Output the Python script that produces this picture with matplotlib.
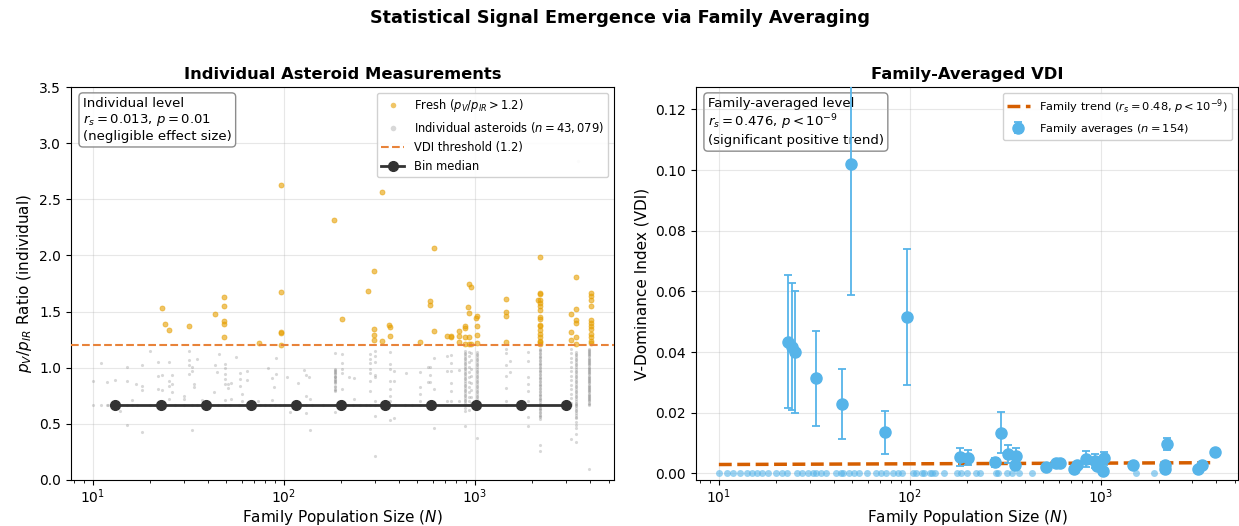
import numpy as np
import matplotlib
matplotlib.use("Agg")
import matplotlib.pyplot as plt
from matplotlib.lines import Line2D

# ---------------- Left panel data ----------------
fresh_N = [22.9, 23.9, 25.1, 31.9, 43.6, 48.8, 48.8, 48.8, 48.8, 48.8,
           74, 96.8, 96.8, 96.8, 96.8, 96.8, 183, 201, 277, 297, 297, 297, 297, 326, 326,
           355, 360, 360, 515, 581, 581,
           608, 608, 713, 746, 746, 824, 824, 824, 890, 890, 890, 926, 927, 957, 923, 930,
           890, 926, 949, 1028, 1010, 1028, 1028, 1028, 1459, 1459, 1459, 1459,
           2197, 2197, 2197, 2197, 2131, 2197, 2197, 2197, 2197, 2197, 2197, 2197, 2197, 2197,
           2197, 2197, 2197, 2197,
           3365, 3365, 3365, 3365, 3365, 3191, 3191, 3191, 3365,
           4029, 4029, 4029, 4029, 4029, 4029, 4029, 4029, 4029, 4029, 4029, 4029]
fresh_y = [1.530, 1.385, 1.335, 1.373, 1.477, 1.628, 1.553, 1.417, 1.385, 1.275,
           1.219, 2.625, 1.675, 1.317, 1.310, 1.202, 2.317, 1.432, 1.684, 1.864, 1.344, 1.293, 1.251, 2.566, 1.234,
           1.382, 1.361, 1.278, 1.231, 1.595, 1.557,
           2.066, 1.323, 1.280, 1.285, 1.275, 1.326, 1.281, 1.225, 1.367, 1.353, 1.269, 1.269, 1.746, 1.717, 1.542, 1.491,
           1.210, 1.210, 1.210, 1.462, 1.443, 1.370, 1.293, 1.222, 1.615, 1.495, 1.459, 1.225,
           1.988, 1.669, 1.655, 1.604, 1.604, 1.580, 1.551, 1.512, 1.453, 1.432, 1.382, 1.373, 1.335, 1.299,
           1.269, 1.240, 1.225, 1.210,
           1.805, 1.527, 1.429, 1.394, 1.275, 1.480, 1.320, 1.246, 1.210,
           1.669, 1.639, 1.604, 1.551, 1.426, 1.402, 1.373, 1.344, 1.299, 1.269, 1.240, 1.216]

indiv_N = [10.0, 10.0, 11.0, 11.0, 11.9, 11.9, 13.0, 13.9, 15.0, 15.0, 15.0, 15.0, 16.0, 16.9, 18.0, 18.0,
           18.0, 18.0, 20.0, 21.9, 21.9, 21.9, 22.9, 22.9, 25.0, 25.0, 25.0, 25.0, 25.9, 25.9, 25.9,
           29.8, 29.8, 31.9, 31.9, 31.9, 31.9, 33.0, 33.0, 33.8, 33.8, 33.0, 34.9, 37.1, 43.0, 43.7,
           44.8, 45.9, 48.9, 48.9, 48.9, 48.9, 48.9, 48.9, 50.7, 50.7, 53.0, 53.0, 55.8, 58.9, 58.9,
           58.9, 63.8, 63.8, 60.5, 60.5,
           12.0, 13.9, 16.0, 17.0, 20.0, 21.0, 24.0, 27.0, 29.8, 33.0, 35.0, 40.0, 45.0, 48.9, 52.0, 58.0, 63.0,
           73.1, 82.5, 86.9, 90.4, 90.4, 89.0, 86.9, 104, 118, 128, 131, 135, 130, 137, 137, 107, 130,
           184, 201, 185, 185, 185, 185, 185, 185, 185, 185, 184, 184, 184, 184, 201, 201, 201, 201, 201,
           185, 220, 233, 233, 283, 283, 283, 283, 283, 283, 299, 299, 299, 299, 299, 283, 299, 299, 299,
           357, 357, 357, 357, 357, 357, 357, 375, 375, 360, 375, 437, 515, 515, 515, 570, 570, 515,
           70, 75, 80, 85, 90, 95, 100, 110, 120, 130, 140, 160, 184, 190, 201, 215, 230, 250, 270, 283,
           299, 330, 357, 380, 430, 470, 515, 560,
           579, 579, 579, 607, 607, 607, 713, 713, 745, 745, 745, 745, 745, 745, 713, 824, 824, 889,
           889, 889, 889, 889, 889, 889, 889, 889, 889, 889, 889, 889, 889, 889, 889, 889, 889, 889, 889,
           926, 926, 926, 926, 926, 926, 926, 926, 926, 926, 926, 926, 926,
           949, 949, 949, 949, 949, 949, 949, 949, 949,
           1028, 1028, 1028, 1028, 1028, 1028, 1028, 1028, 1028, 1028, 1028, 1028, 1028, 1028, 1028,
           1028, 1028, 1028, 1028,
           1459, 1459, 1459, 1459, 1459, 1459, 1459, 1525, 1525,
           1892, 1892, 1892, 1892, 1892, 1892, 1892, 1892, 1892,
           2196, 2196, 2196, 2196, 2196, 2196, 2196, 2196, 2196, 2196, 2196, 2196, 2196, 2196, 2196,
           2196, 2196, 2196, 2196, 2196, 2196, 2196, 2196, 2196, 2196, 2196, 2196, 2196,
           3193, 3193, 3193, 3193, 3193, 3193, 3193, 3193, 3193, 3193, 3193, 3193, 3193, 3193, 3193,
           3363, 3363, 3363, 3363, 3363, 3363, 3363, 3363, 3363, 3363, 3363, 3363, 3363, 3363, 3363,
           3363, 3363, 3363, 3363, 3363, 3363, 3363, 3363, 3363, 3363, 3363,
           3953, 3953, 3953, 3953, 3953, 3953, 3953, 3953, 3953, 3953, 3953, 3953, 3953, 3953, 3953,
           3953, 3953, 3953, 3953, 3953, 3953, 3953, 3953, 3953, 3953, 3953, 3953,
           3459]
indiv_y = [0.879, 0.667, 1.039, 0.667, 0.876, 0.667, 0.888, 0.613, 1.009, 0.882, 0.667, 0.491, 0.710, 0.855, 1.024, 0.835,
           0.805, 0.426, 1.146, 1.048, 0.923, 0.811, 0.938, 0.799, 1.048, 0.885, 0.841, 0.725, 0.932, 0.858, 0.784,
           0.752, 0.722, 1.148, 1.069, 1.024, 0.947, 1.003, 0.974, 0.855, 0.832, 0.447, 1.077, 0.716, 0.784, 1.024,
           0.965, 1.119, 1.033, 0.997, 0.944, 0.903, 0.855, 0.713, 0.852, 0.817, 0.861, 0.719, 1.098, 0.953, 0.897,
           0.841, 0.974, 0.888, 0.707, 0.764,
           0.667, 0.667, 0.667, 0.667, 0.667, 0.667, 0.667, 0.667, 0.667, 0.667, 0.667, 0.667, 0.667, 0.667, 0.667, 0.667, 0.667,
           0.707, 0.997, 0.909, 1.083, 0.944, 0.826, 0.710, 0.918, 0.861, 0.977, 0.932, 0.918, 0.746, 0.719, 0.444, 0.607, 0.598,
           1.128, 1.119, 0.988, 0.959, 0.929, 0.900, 0.870, 0.841, 0.811, 0.796, 0.970, 0.944, 0.915, 0.885, 1.039, 0.986, 0.950, 0.811, 0.707,
           0.607, 0.915, 0.909, 0.725, 1.125, 1.077, 1.039, 0.992, 0.956, 0.885, 1.146, 1.107, 1.054, 0.932, 0.915, 0.796, 0.707, 0.574, 0.213,
           1.140, 1.033, 0.986, 0.885, 0.814, 0.752, 0.707, 0.974, 0.553, 0.536, 0.885, 0.953, 0.959, 0.826, 0.767, 1.003, 0.873, 0.707,
           0.667, 0.667, 0.667, 0.667, 0.667, 0.667, 0.667, 0.667, 0.667, 0.667, 0.667, 0.667, 0.667, 0.667, 0.667, 0.667, 0.667, 0.667, 0.667, 0.667,
           0.667, 0.667, 0.667, 0.667, 0.667, 0.667, 0.667, 0.667,
           1.003, 0.935, 0.876, 1.086, 0.814, 0.465, 1.104, 0.968, 1.116, 1.045, 0.974, 0.861, 0.796, 0.707, 0.707, 0.983, 0.707, 0.479,
           1.15, 1.12, 1.09, 1.06, 1.03, 1.00, 0.97, 0.94, 0.91, 0.88, 0.85, 0.82, 0.79, 0.76, 0.73, 0.70, 0.667, 0.64, 0.61,
           1.14, 1.10, 1.05, 1.01, 0.96, 0.92, 0.87, 0.83, 0.78, 0.74, 0.70, 0.667, 0.62,
           1.13, 1.07, 0.99, 0.93, 0.86, 0.80, 0.74, 0.69, 0.667,
           1.14, 1.11, 1.08, 1.05, 1.02, 0.99, 0.96, 0.93, 0.90, 0.87, 0.84, 0.81, 0.78, 0.75, 0.72,
           0.69, 0.667, 0.63, 0.373,
           1.166, 1.128, 1.027, 0.923, 0.820, 0.707, 0.667, 1.063, 0.959,
           1.137, 1.063, 0.915, 0.855, 0.796, 0.707, 0.667, 0.559, 0.479,
           1.17, 1.145, 1.12, 1.095, 1.07, 1.045, 1.02, 0.995, 0.97, 0.945, 0.92, 0.895, 0.87, 0.845, 0.82,
           0.795, 0.77, 0.745, 0.72, 0.695, 0.667, 0.645, 0.62, 0.595, 0.57, 0.545, 0.314, 0.254,
           1.17, 1.13, 1.09, 1.05, 1.01, 0.97, 0.93, 0.89, 0.85, 0.81, 0.77, 0.73, 0.69, 0.667, 0.367,
           1.14, 1.11, 1.08, 1.05, 1.02, 0.99, 0.96, 0.93, 0.90, 0.87, 0.84, 0.81, 0.78, 0.75, 0.72,
           0.69, 0.667, 0.64, 0.61, 0.58, 0.55, 0.52, 0.49, 0.46, 0.41, 0.334,
           1.17, 1.15, 1.13, 1.11, 1.09, 1.07, 1.05, 1.03, 1.01, 0.99, 0.97, 0.95, 0.93, 0.91, 0.89,
           0.87, 0.85, 0.83, 0.81, 0.79, 0.77, 0.75, 0.73, 0.71, 0.69, 0.667, 0.095,
           2.84]

# extra members of the most populous families (dense columns)
dense_N = [2196] * 25 + [3953] * 25 + [3363] * 20 + [1028] * 16 + [889] * 16 + [185] * 7
dense_y = [1.158, 1.133, 1.108, 1.083, 1.058, 1.033, 1.008, 0.983, 0.958, 0.933, 0.908, 0.883, 0.858,
           0.833, 0.808, 0.783, 0.758, 0.733, 0.708, 0.680, 0.655, 0.632, 0.607, 0.582, 0.557,
           1.16, 1.14, 1.12, 1.10, 1.08, 1.06, 1.04, 1.02, 1.00, 0.98, 0.96, 0.94, 0.92, 0.90, 0.88,
           0.86, 0.84, 0.82, 0.80, 0.78, 0.76, 0.74, 0.72, 0.70, 0.68,
           1.125, 1.095, 1.065, 1.035, 1.005, 0.975, 0.945, 0.915, 0.885, 0.855, 0.825, 0.795, 0.765,
           0.735, 0.705, 0.680, 0.655, 0.625, 0.595, 0.565,
           1.125, 1.095, 1.065, 1.035, 1.005, 0.975, 0.945, 0.915, 0.885, 0.855, 0.825, 0.795, 0.765,
           0.735, 0.705, 0.680,
           1.135, 1.105, 1.075, 1.045, 1.015, 0.985, 0.955, 0.925, 0.895, 0.865, 0.835, 0.805, 0.775,
           0.745, 0.715, 0.685,
           0.98, 0.95, 0.92, 0.89, 0.86, 0.83, 0.80]

bin_N = [13.1, 22.6, 38.9, 67.0, 115.6, 198, 340, 589, 1012, 1742, 2992]
bin_median = [0.667, 0.667, 0.667, 0.667, 0.667, 0.667, 0.667, 0.667, 0.667, 0.667, 0.667]
vdi_threshold = 1.2

# ---------------- Right panel data ----------------
fam_N = [23.0, 24.0, 25.0, 32.1, 44.1, 49.0, 74.0, 97, 183, 201, 280, 299, 327, 361, 356,
         516, 583, 609, 723, 750, 830, 934, 950, 1024, 1037, 1469, 2166, 2166, 2215, 3213, 3380, 3963]
fam_vdi = [0.0434, 0.0418, 0.040, 0.0313, 0.0228, 0.102, 0.0135, 0.0515, 0.0055, 0.0051, 0.0036, 0.0134,
           0.0064, 0.0056, 0.0027, 0.0020, 0.0035, 0.0033, 0.0013, 0.0027, 0.0047, 0.0042, 0.0024, 0.0009,
           0.0049, 0.0027, 0.0013, 0.0027, 0.0096, 0.0013, 0.0027, 0.0069]
fam_err = [0.022, 0.021, 0.020, 0.0157, 0.0115, 0.0432, 0.007, 0.0224, 0.003, 0.0025, 0.0015, 0.0067,
           0.003, 0.0028, 0.001, 0.0005, 0.001, 0.001, 0.0005, 0.0008, 0.0027, 0.0023, 0.001, 0.0005,
           0.0021, 0.0008, 0.0005, 0.0008, 0.002, 0.0005, 0.0008, 0.001]
zero_N = [10.0, 11.0, 11.9, 12.9, 14.0, 14.9, 15.9, 16.9, 18.0, 20.0, 21.5, 22.8, 25.7, 27.3, 29.2,
          31.2, 32.3, 34.1, 36.2, 40.9, 43.4, 44.6, 48.0, 50.9, 54.1, 59.8, 66.2, 70.3, 74.6,
          81.5, 86.5, 90.5, 104, 107, 115, 118, 128, 131, 135, 151, 177, 184, 200, 221, 234,
          281, 289, 323, 343, 372, 437, 1531, 1892]
zero_vdi = [0.0] * len(zero_N)
trend_N = [10, 3963]
trend_vdi = [0.0029, 0.0035]

# ---------------- Figure ----------------
plt.rcParams['font.family'] = ['DejaVu Sans']
fig = plt.figure(figsize=(12.39, 5.26), dpi=100)
ax1 = fig.add_axes([0.0573, 0.0875, 0.4383, 0.7471])
ax2 = fig.add_axes([0.5617, 0.0875, 0.4375, 0.7471])

fig.suptitle("Statistical Signal Emergence via Family Averaging", fontsize=12.7,
             fontweight='bold', y=0.982)

# Left
ax1.scatter(indiv_N + dense_N, indiv_y + dense_y, s=5, color='#7f7f7f', alpha=0.3, lw=0, zorder=2)
ax1.scatter(fresh_N, fresh_y, s=13, color='#E69F00', alpha=0.6, lw=0.6, zorder=3)
ax1.axhline(vdi_threshold, color='#E8833A', ls='--', lw=1.5, zorder=3)
ax1.plot(bin_N, bin_median, color='#333333', marker='o', ms=7, lw=2, zorder=4)
ax1.set_xscale('log')
ax1.set_xlim(10 ** 0.885, 10 ** 3.728)
ax1.set_ylim(0, 3.5)
ax1.set_xlabel("Family Population Size ($N$)", fontsize=11, labelpad=2)
ax1.set_ylabel("$p_V/p_{IR}$ Ratio (individual)", fontsize=11)
ax1.set_title("Individual Asteroid Measurements", fontsize=11.8, fontweight='bold')
ax1.grid(True, which='major', alpha=0.3)
ax1.tick_params(labelsize=10)
ax1.tick_params(axis='x', pad=1.5)
h1 = [Line2D([], [], ls='', marker='o', ms=4, color='#E69F00', alpha=0.6, mew=0),
      Line2D([], [], ls='', marker='o', ms=4, color='#7f7f7f', alpha=0.3, mew=0),
      Line2D([], [], color='#E8833A', ls='--', lw=1.5),
      Line2D([], [], color='#333333', marker='o', ms=7, lw=2)]
l1 = ["Fresh ($p_V/p_{IR} > 1.2$)", "Individual asteroids ($n = 43,079$)",
      "VDI threshold (1.2)", "Bin median"]
ax1.legend(h1, l1, loc='upper right', fontsize=8.3, framealpha=0.9)
ax1.text(0.022, 0.975, "Individual level\n$r_s = 0.013$, $p = 0.01$\n(negligible effect size)",
         transform=ax1.transAxes, fontsize=9.5, va='top', ha='left',
         bbox=dict(boxstyle='round', facecolor='white', edgecolor='gray', alpha=0.9))

# Right
ax2.plot(trend_N, trend_vdi, color='#D55E00', ls='--', lw=2.5, zorder=4,
         label="Family trend ($r_s = 0.48$, $p < 10^{-9}$)")
ax2.errorbar(fam_N, fam_vdi, yerr=fam_err, fmt='o', color='#56B4E9', ms=8,
             capsize=3, elinewidth=1.3, capthick=1.3, zorder=5,
             label="Family averages ($n = 154$)")
ax2.plot(zero_N, zero_vdi, ls='', marker='o', ms=5, color='#56B4E9', alpha=0.6, mew=0, zorder=3)
ax2.set_xscale('log')
ax2.set_xlim(10 ** 0.88, 10 ** 3.717)
ax2.set_ylim(-0.0022, 0.1274)
ax2.set_xlabel("Family Population Size ($N$)", fontsize=11, labelpad=2)
ax2.set_ylabel("V-Dominance Index (VDI)", fontsize=11)
ax2.set_title("Family-Averaged VDI", fontsize=11.8, fontweight='bold')
ax2.grid(True, which='major', alpha=0.3)
ax2.tick_params(labelsize=10)
ax2.tick_params(axis='x', pad=1.5)
ax2.legend(loc='upper right', fontsize=8.2, framealpha=0.9)
ax2.text(0.022, 0.975, "Family-averaged level\n$r_s = 0.476$, $p < 10^{-9}$\n(significant positive trend)",
         transform=ax2.transAxes, fontsize=9.5, va='top', ha='left', zorder=1,
         bbox=dict(boxstyle='round', facecolor='white', edgecolor='gray', alpha=0.9))

fig.savefig("out.png", dpi=100)
